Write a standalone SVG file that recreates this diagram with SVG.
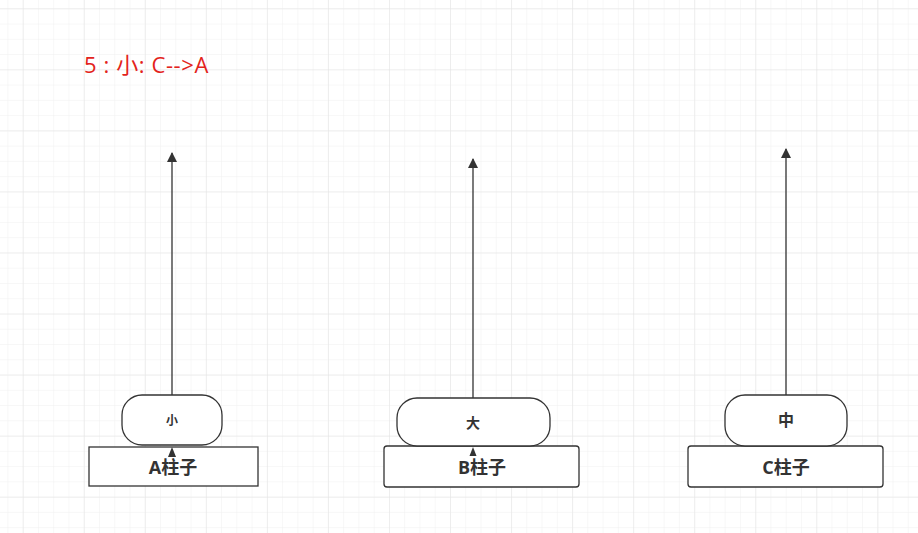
<svg xmlns="http://www.w3.org/2000/svg" width="918" height="533" viewBox="0 0 918 533">
<defs>
<pattern id="minor" patternUnits="userSpaceOnUse" x="7.44" y="8.3" width="15.26" height="15.26">
<path d="M0 0H15.26M0 0V15.26" fill="none" stroke="#f0f0f0" stroke-width="1"/>
</pattern>
<pattern id="major" patternUnits="userSpaceOnUse" x="22.7" y="8.3" width="61.05" height="61.05">
<path d="M0 0H61.05M0 0V61.05" fill="none" stroke="#e4e4e4" stroke-width="1"/>
</pattern>
<marker id="arr" viewBox="0 0 10 10" refX="9" refY="5" markerWidth="10" markerHeight="10" markerUnits="userSpaceOnUse" orient="auto">
<path d="M0 0L10 5L0 10Z" fill="#333"/>
</marker>
</defs>
<style>
.disk{fill:#fff;stroke:#333;stroke-width:1.3}
.post{fill:#fff;stroke:#333;stroke-width:1.3}
.edge{fill:none;stroke:#333;stroke-width:1.3}
.lbl{font-family:"Open Sans","Noto Sans CJK SC",sans-serif;font-weight:bold;fill:#333;text-anchor:middle;dominant-baseline:central}
.title{font-family:"Open Sans","Noto Sans CJK SC",sans-serif;fill:#e3231b;font-size:22px;letter-spacing:0.6px}
</style>
<rect width="918" height="533" fill="#fff"/>
<rect width="918" height="533" fill="url(#minor)"/>
<rect width="918" height="533" fill="url(#major)"/>

<text class="title" x="84" y="73">5 : 小: C--&gt;A</text>

<g id="postA">
<rect class="post" x="89" y="447" width="169" height="39"/>
<text class="lbl" x="173" y="467" font-size="18">A柱子</text>
</g>
<g id="postB">
<rect class="post" x="384" y="446" width="195" height="41" rx="3"/>
<text class="lbl" x="482" y="467" font-size="18">B柱子</text>
</g>
<g id="postC">
<rect class="post" x="688" y="446" width="195" height="41" rx="3"/>
<text class="lbl" x="786" y="467" font-size="18">C柱子</text>
</g>

<g id="diskSmall">
<rect class="disk" x="122" y="395" width="100" height="50" rx="20"/>
<text class="lbl" x="172" y="420" font-size="12">小</text>
</g>
<g id="diskBig">
<rect class="disk" x="397" y="398" width="153" height="48" rx="20"/>
<text class="lbl" x="473" y="422" font-size="14">大</text>
</g>
<g id="diskMid">
<rect class="disk" x="725" y="395" width="122" height="51" rx="20"/>
<text class="lbl" x="786" y="420" font-size="16">中</text>
</g>

<g id="connectors">
<line class="edge" x1="172" y1="395" x2="172" y2="153" marker-end="url(#arr)"/>
<line class="edge" x1="473" y1="398" x2="473" y2="159" marker-end="url(#arr)"/>
<line class="edge" x1="786" y1="395" x2="786" y2="149" marker-end="url(#arr)"/>
<path d="M168 457L172 447L176 457Z" fill="#333"/>
<path d="M469.5 456L473 447L476.5 456Z" fill="#333"/>
</g>
</svg>
